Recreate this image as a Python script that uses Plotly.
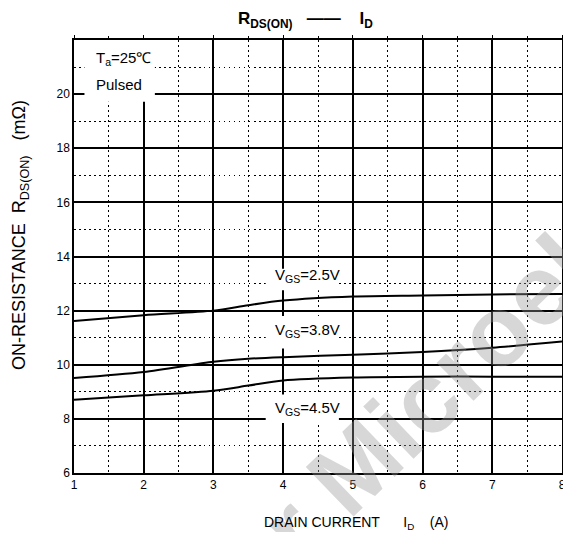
import plotly.graph_objects as go

# ---- data ----
drain_current = [1, 2, 3, 3.5, 4, 5, 6, 7, 8]
rds_vgs_25 = [11.62, 11.83, 12.0, 12.2, 12.37, 12.52, 12.56, 12.6, 12.61]
rds_vgs_38 = [9.51, 9.73, 10.11, 10.22, 10.28, 10.37, 10.47, 10.63, 10.86]
rds_vgs_45 = [8.71, 8.87, 9.04, 9.23, 9.42, 9.53, 9.56, 9.56, 9.56]
x_ticks = [1, 2, 3, 4, 5, 6, 7, 8]
x_minor = [1.5, 2.5, 3.5, 4.5, 5.5, 6.5, 7.5]
y_ticks = [6, 8, 10, 12, 14, 16, 18, 20, 22]
y_labels = ["6", "8", "10", "12", "14", "16", "18", "20", ""]
y_minor = [7, 9, 11, 13, 15, 17, 19, 21]

FONT = "Liberation Sans, Arial, sans-serif"
NB = "\u00a0"

# page has an 8px body margin; figure sized so the whole figure stays inside the visible area
PAGE_OFF = 8
W, H = 555, 524
ML, MR, MT, MB = 66, 1, 32, 59
PW, PH = W - ML - MR, H - MT - MB


def px_to_paper(px, py):
    fx, fy = px - PAGE_OFF, py - PAGE_OFF
    return (fx - ML) / PW, (H - MB - fy) / PH


fig = go.Figure()
for ys in (rds_vgs_25, rds_vgs_38, rds_vgs_45):
    fig.add_trace(go.Scatter(x=drain_current, y=ys, mode="lines",
                             line=dict(color="black", width=2, shape="spline", smoothing=0.8),
                             showlegend=False, hoverinfo="skip"))
# invisible companion trace so the top tick axis is drawn
fig.add_trace(go.Scatter(x=drain_current, y=rds_vgs_25, xaxis="x2", mode="lines",
                         line=dict(width=0), opacity=0, showlegend=False, hoverinfo="skip"))

MAJOR_W = 1.5
MINOR_DASH = "1.5px,3.5px"
tick_font = dict(family=FONT, size=12, color="black")

fig.update_layout(
    xaxis=dict(range=[1, 8], tickmode="array", tickvals=x_ticks,
               showline=True, linecolor="black", linewidth=MAJOR_W, mirror=True,
               ticks="", automargin=False, zeroline=False, ticklabeloverflow="allow",
               showgrid=True, gridcolor="black", gridwidth=MAJOR_W, griddash="solid",
               tickfont=tick_font,
               minor=dict(tickmode="array", tickvals=x_minor, showgrid=True, gridcolor="black",
                          griddash=MINOR_DASH, gridwidth=1.2, ticks="")),
    yaxis=dict(range=[6, 22], tickmode="array", tickvals=y_ticks, ticktext=y_labels,
               showline=True, linecolor="black", linewidth=MAJOR_W, mirror=True,
               ticks="", automargin=False, zeroline=False,
               showgrid=True, gridcolor="black", gridwidth=MAJOR_W, griddash="solid",
               tickfont=tick_font,
               minor=dict(tickmode="array", tickvals=y_minor, showgrid=True, gridcolor="black",
                          griddash=MINOR_DASH, gridwidth=1.2, ticks="")),
    xaxis2=dict(overlaying="x", side="top", range=[1, 8], tickmode="array",
                tickvals=x_ticks, showticklabels=False, showgrid=False,
                zeroline=False, showline=False, automargin=False,
                ticks="outside", ticklen=4, tickwidth=1.2, tickcolor="black",
                minor=dict(tickmode="array", tickvals=x_minor, ticks="outside",
                           ticklen=3, tickcolor="black", showgrid=False)),
)

# white label boxes (between grid and traces)
boxes = [
    (1.15, 2.16, 19.72, 22.0),
    (3.75, 4.8, 12.75, 13.55),
    (3.75, 4.8, 10.6, 11.8),
    (3.75, 4.8, 7.85, 8.9),
]
for x0, x1, y0, y1 in boxes:
    fig.add_shape(type="rect", x0=x0, x1=x1, y0=y0, y1=y1, xref="x", yref="y",
                  fillcolor="white", line=dict(width=0), layer="between")

lab_font = dict(family=FONT, size=15, color="black")
fig.add_annotation(x=1.28, y=21.3, xref="x", yref="y", text="T<sub>a</sub>=25\u2103",
                   showarrow=False, xanchor="left", yanchor="middle", font=lab_font)
fig.add_annotation(x=1.28, y=20.34, xref="x", yref="y", text="Pulsed",
                   showarrow=False, xanchor="left", yanchor="middle", font=lab_font)
for yv, txt in ((13.28, "2.5V"), (11.25, "3.8V"), (8.37, "4.5V")):
    fig.add_annotation(x=4.35, y=yv, xref="x", yref="y", text="V<sub>GS</sub>=" + txt,
                       showarrow=False, xanchor="center", yanchor="middle", font=lab_font)

# watermark
wx, wy = px_to_paper(426, 398)
fig.add_annotation(x=wx, y=wy, xref="paper", yref="paper", text="<b>r Microel</b>",
                   showarrow=False, textangle=-44, xanchor="center", yanchor="middle",
                   font=dict(family=FONT, size=100, color="rgba(150,150,150,0.38)"))

# title
tx, ty = px_to_paper(305, 20)
fig.add_annotation(x=tx, y=ty, xref="paper", yref="paper", xanchor="center", yanchor="middle",
                   text="<b>R<sub>DS(ON)</sub>" + NB * 3 + "\u2014\u2014" + NB * 4 + "I<sub>D</sub></b>",
                   showarrow=False, font=dict(family=FONT, size=17, color="black"))
# axis titles
ax, ay = px_to_paper(356, 523)
fig.add_annotation(x=ax, y=ay, xref="paper", yref="paper", xanchor="center", yanchor="middle",
                   text="DRAIN CURRENT" + NB * 6 + "I<sub>D</sub>" + NB * 4 + "(A)",
                   showarrow=False, font=dict(family=FONT, size=14, color="black"))
bx, by = px_to_paper(20, 235)
fig.add_annotation(x=bx, y=by, xref="paper", yref="paper", textangle=-90,
                   xanchor="center", yanchor="middle",
                   text="ON-RESISTANCE" + NB * 2 + "R<sub>DS(ON)</sub>" + NB * 3 + "(m\u03a9)",
                   showarrow=False, font=dict(family=FONT, size=18, color="black"))

fig.update_layout(width=W, height=H, margin=dict(l=ML, r=MR, t=MT, b=MB, autoexpand=False),
                  paper_bgcolor="white", plot_bgcolor="white")

fig.write_html("out.html")
